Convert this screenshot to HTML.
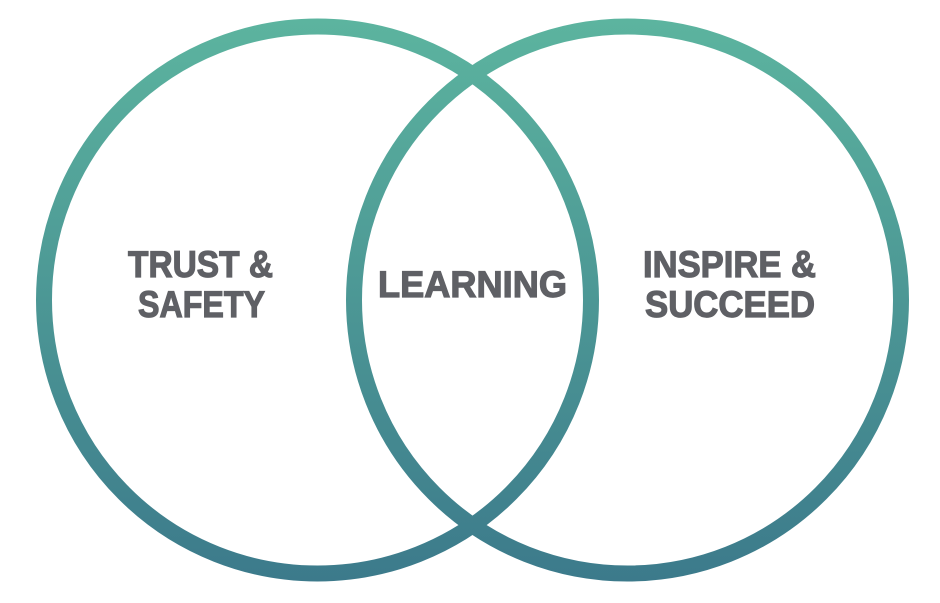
<!DOCTYPE html>
<html><head><meta charset="utf-8"><style>
html,body{margin:0;padding:0;background:#fff;}
svg{display:block;}
text{font-family:"Liberation Sans",sans-serif;font-weight:bold;fill:#5f6065;stroke:#5f6065;stroke-width:1.2px;font-size:37.5px;}
</style></head><body>
<svg width="940" height="603" viewBox="0 0 940 603" xmlns="http://www.w3.org/2000/svg">
<defs>
<linearGradient id="g" gradientUnits="userSpaceOnUse" x1="0" y1="18" x2="0" y2="582">
<stop offset="0" stop-color="#5cb49f"/>
<stop offset="1" stop-color="#3c7a8b"/>
</linearGradient>
</defs>
<circle cx="317.5" cy="300" r="273.5" fill="none" stroke="url(#g)" stroke-width="16"/>
<circle cx="627.5" cy="300" r="273.5" fill="none" stroke="url(#g)" stroke-width="16"/>
<text x="128" y="277" textLength="145" lengthAdjust="spacingAndGlyphs">TRUST &amp;</text>
<text x="138" y="317" textLength="127" lengthAdjust="spacingAndGlyphs">SAFETY</text>
<text x="378" y="297" textLength="189" lengthAdjust="spacingAndGlyphs">LEARNING</text>
<text x="643" y="277" textLength="173" lengthAdjust="spacingAndGlyphs">INSPIRE &amp;</text>
<text x="645" y="317" textLength="170" lengthAdjust="spacingAndGlyphs">SUCCEED</text>
</svg>
</body></html>
